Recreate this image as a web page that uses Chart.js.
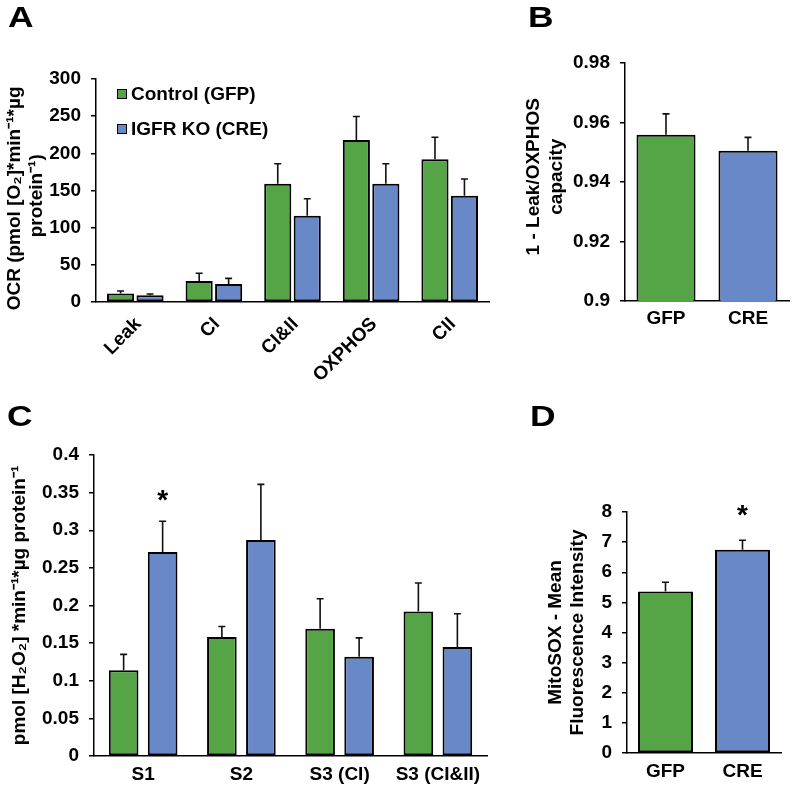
<!DOCTYPE html>
<html>
<head>
<meta charset="utf-8">
<script src="https://cdn.jsdelivr.net/npm/chart.js@4.4.1/dist/chart.umd.min.js"></script>
<style>
  html, body { margin: 0; padding: 0; background: #fff; }
  #page { position: relative; width: 794px; height: 789px; overflow: hidden; background: #fff;
          font-family: 'Liberation Sans', Arial, sans-serif; font-weight: bold; color: #000; }
  canvas { position: absolute; }
  .tag { position: absolute; font-size: 29px; line-height: 29px; transform: scaleX(1.22); transform-origin: 0 0; }
  .legend { position: absolute; left: 117px; top: 76px; font-size: 19px; }
  .legend .row { display: flex; align-items: center; height: 35px; white-space: nowrap; }
  .legend .box { width: 8px; height: 8px; border: 1.5px solid #000; margin-right: 4px; }
</style>
</head>
<body>
<div id="page">
  <canvas id="chartA" width="495" height="390" style="left:0;top:0"></canvas>
  <canvas id="chartB" width="289" height="340" style="left:505px;top:0"></canvas>
  <canvas id="chartC" width="500" height="409" style="left:0;top:380px"></canvas>
  <canvas id="chartD" width="274" height="409" style="left:520px;top:380px"></canvas>
  <div class="tag" style="left:8px;top:3px">A</div>
  <div class="tag" style="left:528px;top:3px">B</div>
  <div class="tag" style="left:7px;top:402px">C</div>
  <div class="tag" style="left:530px;top:402px">D</div>
  <div class="legend" id="legendA"></div>
</div>
<script>
const GREEN = "#55a445";
const BLUE = "#6888c8";
const FONT = { family: "'Liberation Sans', Arial, sans-serif", size: 19, weight: "bold" };
const SP = "\u00a0";

// A - OCR
const catsA = ["Leak", "CI", "CI&II", "OXPHOS", "CII"];
const gfpA = [11.6, 28.2, 159, 218, 192];
const gfpErrA = [3.2, 10.4, 27, 31.5, 29.6];
const creA = [9, 24.2, 116, 159, 143];
const creErrA = [1.8, 7.6, 23, 27, 22.5];
const ticksA = [0, 50, 100, 150, 200, 250, 300];

// B - 1 - Leak/OXPHOS
const catsB = ["GFP", "CRE"];
const valsB = [0.9559, 0.9505];
const errB = [0.0070, 0.0045];
const ticksB = [0.9, 0.92, 0.94, 0.96, 0.98];

// C - H2O2
const catsC = ["S1", "S2", "S3 (CI)", "S3 (CI&II)"];
const gfpC = [0.114, 0.158, 0.169, 0.192];
const gfpErrC = [0.021, 0.014, 0.040, 0.038];
const creC = [0.271, 0.287, 0.132, 0.145];
const creErrC = [0.041, 0.074, 0.025, 0.044];
const sigC = ["*", "", "", ""];
const ticksC = [0, 0.05, 0.1, 0.15, 0.2, 0.25, 0.3, 0.35, 0.4];

// D - MitoSOX
const catsD = ["GFP", "CRE"];
const valsD = [5.36, 6.75];
const errD = [0.31, 0.31];
const sigD = ["", "*"];
const ticksD = [0, 1, 2, 3, 4, 5, 6, 7, 8];

const seriesNames = ["Control (GFP)", "IGFR KO (CRE)"];

// error bars (upper half only) + significance stars
const errorBars = {
  id: "errorBars",
  afterDatasetsDraw(chart, args, opts) {
    const { ctx } = chart;
    const y = chart.scales.y;
    chart.data.datasets.forEach((ds, di) => {
      chart.getDatasetMeta(di).data.forEach((bar, i) => {
        const top = y.getPixelForValue(ds.data[i] + ds.errors[i]);
        ctx.save();
        ctx.strokeStyle = "#111";
        ctx.lineWidth = 1.6;
        ctx.beginPath();
        ctx.moveTo(bar.x, bar.y);
        ctx.lineTo(bar.x, top);
        ctx.moveTo(bar.x - 3.5, top);
        ctx.lineTo(bar.x + 3.5, top);
        ctx.stroke();
        if (ds.marks && ds.marks[i]) {
          ctx.fillStyle = "#000";
          ctx.font = "bold 28px 'Liberation Sans', Arial, sans-serif";
          ctx.textAlign = "center";
          ctx.textBaseline = "middle";
          ctx.fillText(ds.marks[i], bar.x, top - opts.starGap + 6);
        }
        ctx.restore();
      });
    });
  },
};

function panel(id, o) {
  const ticks = o.ticks;
  return new Chart(document.getElementById(id), {
    type: "bar",
    data: { labels: o.labels, datasets: o.datasets },
    options: {
      responsive: false,
      animation: false,
      layout: { padding: o.pad },
      datasets: { bar: { borderColor: "#000", borderWidth: 2, borderSkipped: false, categoryPercentage: o.cat, barPercentage: o.bar } },
      plugins: { legend: { display: false }, tooltip: { enabled: false }, errorBars: { starGap: o.starGap || 0 } },
      scales: {
        x: {
          grid: { display: false, drawTicks: false },
          border: { display: true, color: "#000", width: 1.5 },
          ticks: { color: "#000", font: FONT, padding: o.xPad, labelOffset: o.xShift || 0, autoSkip: false, minRotation: o.rot || 0, maxRotation: o.rot || 0 },
          afterFit: (s) => { s.height = o.xH; },
        },
        y: {
          min: ticks[0],
          max: ticks[ticks.length - 1],
          grid: { display: true, drawOnChartArea: false, drawTicks: true, tickLength: 5, color: "#000", lineWidth: 1.5 },
          border: { display: true, color: "#000", width: 1.5 },
          ticks: { color: "#000", font: FONT, padding: 10, callback: (v) => String(+v.toFixed(2)) },
          afterBuildTicks: (s) => { s.ticks = ticks.map((v) => ({ value: v })); },
          title: { display: true, text: o.title, color: "#000", font: { ...FONT, lineHeight: 1.2 }, padding: { top: o.titlePad, bottom: 0 } },
          afterFit: (s) => { s.width = o.yW; },
        },
      },
    },
    plugins: [errorBars],
  });
}

panel("chartA", {
  labels: catsA,
  datasets: [
    { label: seriesNames[0], data: gfpA, errors: gfpErrA, backgroundColor: GREEN },
    { label: seriesNames[1], data: creA, errors: creErrA, backgroundColor: BLUE },
  ],
  ticks: ticksA, title: ["OCR (pmol [O₂]*min⁻¹*µg" + SP.repeat(3), "protein⁻¹)" + SP.repeat(2)],
  pad: { top: 79, right: 6, left: 0, bottom: 0 }, yW: 96, xH: 88, titlePad: 3, xPad: 11, xShift: 3, rot: 45,
  cat: 0.75, bar: 0.92,
});

panel("chartB", {
  labels: catsB,
  datasets: [{ data: valsB, errors: errB, backgroundColor: [GREEN, BLUE] }],
  ticks: ticksB, title: [SP.repeat(2) + "1 - Leak/OXPHOS", SP.repeat(2) + "capacity"],
  pad: { top: 63, right: 5, left: 0, bottom: 0 }, yW: 120, xH: 39, titlePad: 17.6, xPad: 6,
  cat: 0.72, bar: 1,
});

panel("chartC", {
  labels: catsC,
  datasets: [
    { label: seriesNames[0], data: gfpC, errors: gfpErrC, backgroundColor: GREEN },
    { label: seriesNames[1], data: creC, errors: creErrC, marks: sigC, backgroundColor: BLUE },
  ],
  ticks: ticksC, title: "pmol [H₂O₂] *min⁻¹*µg protein⁻¹",
  pad: { top: 75, right: 13, left: 0, bottom: 0 }, yW: 94, xH: 33, titlePad: 8.6, xPad: 7,
  cat: 0.794, bar: 0.76, starGap: 26,
});

panel("chartD", {
  labels: catsD,
  datasets: [{ data: valsD, errors: errD, marks: sigD, backgroundColor: [GREEN, BLUE] }],
  ticks: ticksD, title: ["MitoSOX - Mean", "Fluorescence Intensity"],
  pad: { top: 132, right: 13, left: 0, bottom: 0 }, yW: 107, xH: 36, titlePad: 24, xPad: 7,
  cat: 0.714, bar: 1, starGap: 30,
});

// HTML legend for panel A
document.getElementById("legendA").innerHTML = seriesNames
  .map((n, i) => `<div class="row"><span class="box" style="background:${[GREEN, BLUE][i]}"></span>${n}</div>`)
  .join("");
</script>
</body>
</html>
